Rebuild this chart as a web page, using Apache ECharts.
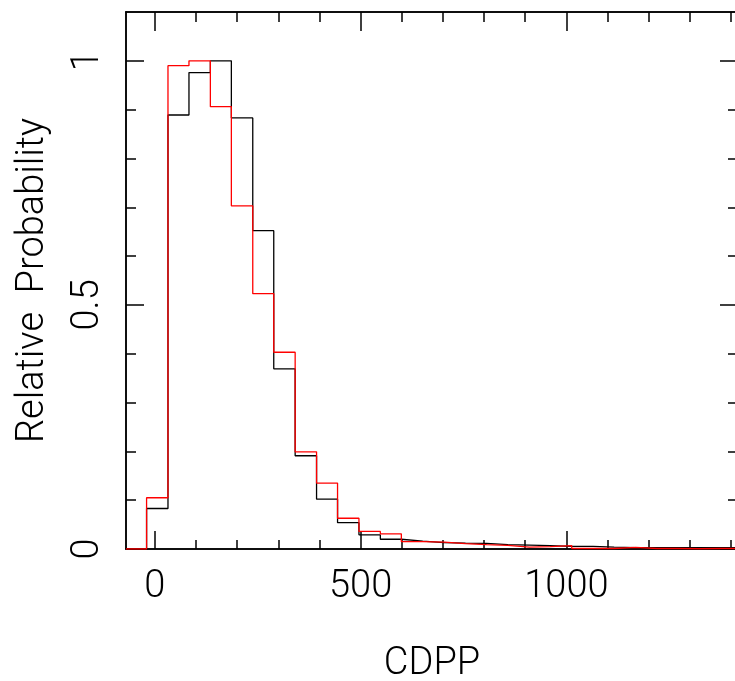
<!DOCTYPE html>
<html>
<head>
<meta charset="utf-8">
<script src="https://cdn.jsdelivr.net/npm/echarts@6/dist/echarts.min.js"></script>
<style>
    html, body { margin: 0; padding: 0; background: #fff; }
    #chart { width: 735px; height: 681px; }
</style>
</head>
<body>
<div id="chart"></div>
<script>
    // bin edges of the CDPP histograms
    const binEdges = [-20, 32, 83, 135, 186, 238, 289, 341, 393, 444, 496, 548, 599, 651, 703,
        755, 806, 858, 910, 961, 1013, 1065, 1116, 1168, 1220, 1271, 1323, 1375, 1426]
    const blackHeights = [0.083, 0.889, 0.976, 1.0, 0.883, 0.652, 0.369, 0.191, 0.102, 0.054,
        0.029, 0.020, 0.016, 0.013, 0.012, 0.0116, 0.009, 0.008, 0.0068, 0.0055,
        0.0055, 0.004, 0.003, 0.003, 0.003, 0.0027, 0.003, 0.0027]
    const redHeights = [0.105, 0.990, 1.0, 0.906, 0.703, 0.523, 0.403, 0.199, 0.135, 0.063,
        0.036, 0.031, 0.015, 0.014, 0.011, 0.009, 0.0075, 0.004, 0.0048, 0.007,
        0.001, 0.001, 0.0034, 0.001, 0.001, 0.0005, 0.001, 0.001]
    const xMajorTicks = [0, 500, 1000]
    const xMinorTicks = [100, 200, 300, 400, 600, 700, 800, 900, 1100, 1200, 1300, 1400]
    const yMajorTicks = [0, 0.5, 1]
    const yMinorTicks = [0.1, 0.2, 0.3, 0.4, 0.6, 0.7, 0.8, 0.9]

    const xMin = -70, xMax = 1417
    const font = 'Roboto, "Liberation Sans", sans-serif'

    // outline of a histogram as a stepped line
    function stepLine(heights) {
        let pts = [[xMin, 0]]
        heights.forEach((h, i) => pts.push([binEdges[i], h]))
        pts.push([binEdges[heights.length], heights[heights.length - 1]])
        return pts
    }

    const gridPos = { left: 126, top: 12, right: -3, bottom: 132, containLabel: false, outerBoundsMode: 'none' }
    const line = { show: true, onZero: false, lineStyle: { color: '#000', width: 1.5 } }

    function xAx(grid, pos, ticks, len, withLabel) {
        return {
            type: 'value', gridIndex: grid, position: pos, min: xMin, max: xMax,
            axisLine: line,
            axisTick: { show: true, inside: true, length: len, customValues: ticks,
                lineStyle: { color: '#000', width: 1.5 } },
            axisLabel: withLabel ? {
                show: true, customValues: ticks, margin: 19, color: '#000',
                fontSize: 38, fontFamily: font, fontWeight: 300,
                formatter: v => String(v)
            } : { show: false },
            splitLine: { show: false },
            name: withLabel ? 'CDPP' : '',
            nameLocation: 'middle', nameGap: 96,
            nameTextStyle: { color: '#000', fontSize: 38, fontFamily: font, fontWeight: 300 }
        }
    }

    function yAx(grid, pos, ticks, len, withLabel) {
        return {
            type: 'value', gridIndex: grid, position: pos, min: 0, max: 1.1,
            axisLine: line,
            axisTick: { show: true, inside: true, length: len, customValues: ticks,
                lineStyle: { color: '#000', width: 1.5 } },
            axisLabel: withLabel ? {
                show: true, customValues: ticks, rotate: 90, margin: 19, color: '#000',
                fontSize: 38, fontFamily: font, fontWeight: 300,
                formatter: v => String(v)
            } : { show: false },
            splitLine: { show: false },
            name: withLabel ? 'Relative  Probability' : '',
            nameLocation: 'middle', nameGap: 74,
            nameTextStyle: { color: '#000', fontSize: 38, fontFamily: font, fontWeight: 300 }
        }
    }

    let myChart = echarts.init(document.getElementById('chart'))
    let option = {
        backgroundColor: '#fff',
        animation: false,
        grid: [Object.assign({}, gridPos), Object.assign({}, gridPos)],
        xAxis: [
            xAx(0, 'bottom', xMajorTicks, 18, true),
            xAx(0, 'top', xMajorTicks, 19, false),
            xAx(1, 'bottom', xMinorTicks, 9, false),
            xAx(1, 'top', xMinorTicks, 10, false)
        ],
        yAxis: [
            yAx(0, 'left', yMajorTicks, 18, true),
            yAx(0, 'right', yMajorTicks, 18, false),
            yAx(1, 'left', yMinorTicks, 10, false),
            yAx(1, 'right', yMinorTicks, 10, false)
        ],
        series: [
            {
                type: 'line', xAxisIndex: 0, yAxisIndex: 0,
                data: stepLine(blackHeights), step: 'end', symbol: 'none',
                lineStyle: { color: '#000', width: 1.3 }
            },
            {
                type: 'line', xAxisIndex: 0, yAxisIndex: 0,
                data: stepLine(redHeights), step: 'end', symbol: 'none',
                lineStyle: { color: '#ff0000', width: 1.3 }
            }
        ]
    }
    myChart.setOption(option)
</script>
</body>
</html>
